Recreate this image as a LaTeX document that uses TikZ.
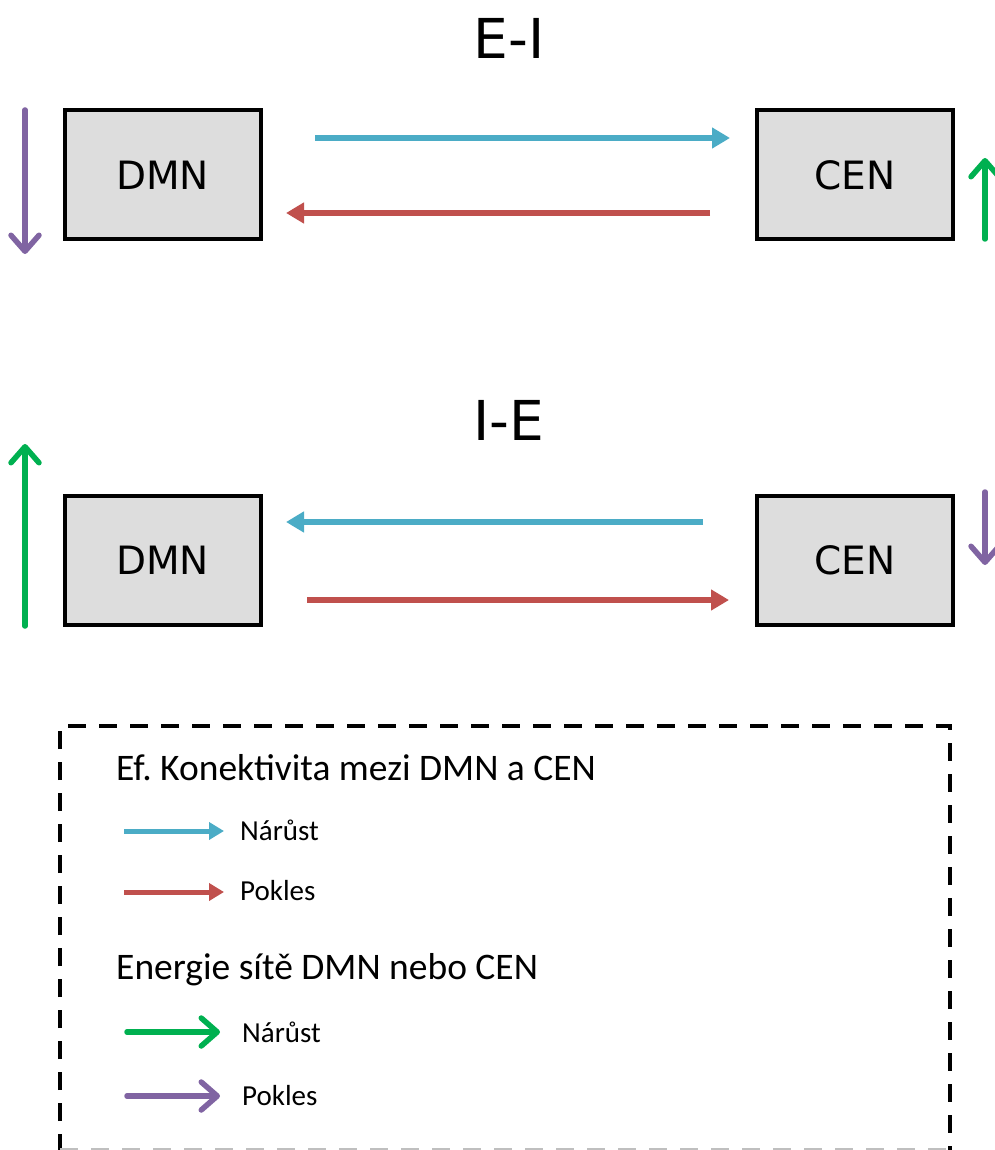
\documentclass[tikz,border=0pt]{standalone}
\usepackage{fontspec}
\setmainfont{Carlito}
\newfontfamily\dejavu{DejaVu Sans}
\usetikzlibrary{arrows.meta}
\frenchspacing
\definecolor{cblue}{HTML}{4BACC6}
\definecolor{cred}{HTML}{C0504D}
\definecolor{cgreen}{HTML}{00B050}
\definecolor{cpurple}{HTML}{8064A2}
\definecolor{boxgray}{HTML}{DDDDDD}
\tikzset{
  net/.style={draw=black, line width=4pt, fill=boxgray, minimum width=196pt, minimum height=129pt, inner sep=0pt, font=\dejavu\fontsize{39}{42}\selectfont},
  title/.style={font=\dejavu\fontsize{55}{60}\selectfont, inner sep=0pt},
  conn/.style={line width=6pt, -{Triangle[length=18pt,width=20pt]}},
  energy/.style={line width=5.5pt, line cap=round, -{Straight Barb[length=16pt,width=28pt,line cap=round,round]}},
  head/.style={font=\fontsize{37.5}{42}\selectfont, anchor=west, inner sep=0pt},
  item/.style={font=\fontsize{29}{33}\selectfont, anchor=west, inner sep=0pt},
}
\begin{document}
\begin{tikzpicture}[x=1pt,y=-1pt]
\useasboundingbox (0,0) rectangle (994,1150);
% E-I
\node[title] (t1) at (509,38) {E-I};
\node[net] (dmn1) at (162.5,175) {DMN};
\node[net] (cen1) at (855,175) {CEN};
\coordinate (b1s) at (315,138); \coordinate (b1e) at (730,138);
\draw[conn, cblue] (b1s) -- (b1e);
\coordinate (r1s) at (710,213); \coordinate (r1e) at (286,213);
\draw[conn, cred] (r1s) -- (r1e);
\coordinate (p1s) at (25,110); \coordinate (p1e) at (25,254);
\draw[energy, cpurple] (p1s) -- (p1e);
\coordinate (g1s) at (985,239); \coordinate (g1e) at (985,158);
\draw[energy, cgreen] (g1s) -- (g1e);
% I-E
\node[title] (t2) at (509,420) {I-E};
\node[net] (dmn2) at (162.5,560) {DMN};
\node[net] (cen2) at (855,560) {CEN};
\coordinate (b2s) at (703,522); \coordinate (b2e) at (286,522);
\draw[conn, cblue] (b2s) -- (b2e);
\coordinate (r2s) at (307,600); \coordinate (r2e) at (729,600);
\draw[conn, cred] (r2s) -- (r2e);
\coordinate (g2s) at (25,626); \coordinate (g2e) at (25,444);
\draw[energy, cgreen] (g2s) -- (g2e);
\coordinate (p2s) at (985,492); \coordinate (p2e) at (985,565);
\draw[energy, cpurple] (p2s) -- (p2e);
% legend
\draw[line width=4pt, dash pattern=on 18pt off 13pt] (60,1152) -- (60,726) -- (950,726) -- (950,1152);
\draw[line width=3pt, black!25, dash pattern=on 18pt off 13pt] (60,1149) -- (950,1149);
\node[head] (h1) at (116,768) {Ef. Konektivita mezi DMN a CEN};
\coordinate (l1s) at (124,831); \coordinate (l1e) at (224,831);
\draw[line width=5pt, cblue, -{Triangle[length=15pt,width=17pt]}] (l1s) -- (l1e);
\node[item] (n1) at (240,830) {Nárůst};
\coordinate (l2s) at (124,892); \coordinate (l2e) at (224,892);
\draw[line width=5pt, cred, -{Triangle[length=15pt,width=17pt]}] (l2s) -- (l2e);
\node[item] (n2) at (240,891) {Pokles};
\node[head] (h2) at (116,970) {Energie sítě DMN nebo CEN};
\coordinate (l3s) at (127,1032); \coordinate (l3e) at (220,1032);
\draw[energy, cgreen] (l3s) -- (l3e);
\node[item] (n3) at (242,1032) {Nárůst};
\coordinate (l4s) at (127,1096); \coordinate (l4e) at (220,1096);
\draw[energy, cpurple] (l4s) -- (l4e);
\node[item] (n4) at (242,1096) {Pokles};
\end{tikzpicture}
\end{document}
